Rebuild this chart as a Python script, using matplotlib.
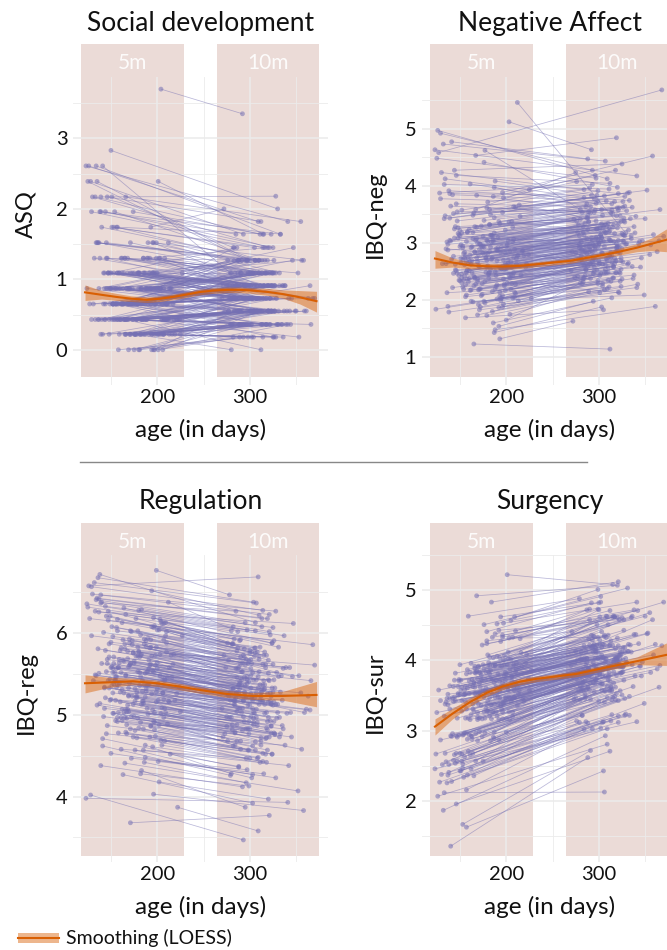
import numpy as np
import matplotlib
matplotlib.use("Agg")
import matplotlib.pyplot as plt
import matplotlib.transforms as mtransforms
from matplotlib.collections import LineCollection
from matplotlib.patches import Rectangle
from matplotlib.lines import Line2D
from numpy import nan

plt.rcParams['font.family'] = ['Lato', 'DejaVu Sans']

# ---------------------------------------------------------------------------
# Infant ages (days) at the 5-month and 10-month visits
AGE_5M = [
    131, 148, 162, 175, 189, 203, 156, 141, 168, 182, 197, 212, 144, 159, 171, 186, 200, 135, 152, 165,
    178, 193, 207, 147, 161, 174, 188, 201, 138, 155, 167, 181, 195, 209, 150, 163, 176, 190, 204, 126,
    145, 158, 172, 185, 198, 214, 153, 166, 179, 192, 206, 139, 157, 170, 183, 196, 210, 149, 164, 177,
    191, 205, 134, 151, 169, 184, 199, 217, 146, 160, 173, 187, 202, 129, 154, 168, 180, 194, 208, 143,
    158, 171, 185, 197, 211, 137, 150, 163, 176, 189, 203, 222, 147, 162, 175, 188, 201, 140, 156, 169,
    182, 195, 209, 124, 152, 165, 178, 191, 205, 144, 159, 172, 186, 199, 215, 136, 153, 166, 180, 193,
    207, 148, 161, 174, 187, 200, 133, 157, 170, 183, 196, 212, 142, 155, 168, 181, 194, 208, 127, 151,
    164, 177, 190, 204, 145, 160, 173, 186, 198, 219, 139, 154, 167, 179, 192, 206, 149, 162, 175, 188,
    202, 132, 156, 169, 182, 195, 210, 143, 158, 171, 184, 197, 225, 137, 153, 166, 179, 193, 207, 146,
    161, 174, 187, 200, 128, 150, 164, 177, 190, 203, 141, 157, 170, 183, 196, 213, 135, 152, 165, 180,
    137, 152, 166, 179, 193, 208, 145, 158, 171, 185, 199, 221, 130, 149, 163, 176, 190, 205, 142, 157,
    170, 184, 198, 213, 125, 147, 161, 174, 188, 202, 139, 155, 168, 182, 196, 211, 151, 165, 178, 192,
    206, 134, 153, 167, 181, 194, 209, 146, 160, 173, 187, 201, 227, 138, 156, 169, 183, 197, 216, 144,
    159, 172, 186, 200, 123, 148, 162, 176, 189, 204, 140, 154, 167, 180, 194, 210, 133, 150, 164, 178,
    191, 207, 143, 157, 171, 185, 199, 218, 129, 152, 166, 179, 193, 208, 136, 155, 169, 182, 196, 224,
]
AGE_10M = [
    285, 302, 318, 334, 291, 308, 325, 279, 296, 313, 341, 287, 304, 321, 298, 315, 283, 300, 329, 352,
    293, 310, 327, 281, 297, 314, 338, 289, 306, 323, 275, 295, 312, 331, 286, 303, 320, 346, 292, 309,
    326, 282, 299, 316, 336, 288, 305, 322, 271, 294, 311, 328, 284, 301, 319, 358, 290, 307, 324, 280,
    297, 314, 333, 287, 304, 321, 278, 295, 312, 343, 286, 303, 320, 293, 310, 327, 282, 299, 317, 365,
    289, 306, 323, 276, 296, 313, 330, 285, 302, 319, 292, 309, 326, 349, 281, 298, 315, 288, 305, 322,
    273, 294, 311, 337, 284, 301, 318, 291, 308, 325, 279, 297, 314, 332, 287, 304, 321, 355, 290, 307,
    324, 283, 300, 317, 340, 288, 306, 323, 277, 295, 312, 329, 286, 303, 320, 293, 310, 327, 368, 282,
    299, 316, 335, 289, 306, 323, 274, 296, 313, 344, 285, 302, 319, 292, 309, 326, 281, 298, 315, 361,
    290, 307, 324, 278, 294, 311, 331, 287, 304, 321, 283, 300, 318, 347, 291, 308, 325, 272, 297, 314,
    339, 286, 303, 320, 293, 310, 328, 280, 299, 316, 288, 305, 322, 353, 284, 301, 319, 295, 312, 370,
    301, 318, 335, 289, 306, 323, 276, 296, 313, 342, 287, 304, 321, 294, 311, 328, 283, 300, 317, 363,
    290, 307, 324, 279, 297, 314, 332, 286, 303, 320, 292, 309, 326, 350, 282, 299, 316, 288, 305, 322,
    270, 295, 312, 338, 285, 302, 319, 291, 308, 325, 280, 298, 315, 333, 287, 304, 321, 356, 293, 310,
    327, 284, 301, 318, 341, 289, 306, 323, 277, 296, 313, 330, 286, 303, 320, 294, 311, 328, 366, 281,
    300, 317, 336, 290, 307, 324, 275, 297, 314, 345, 284, 301, 319, 292, 309, 326, 282, 299, 316, 359,
]

# ASQ social development scores
ASQ_5M = [
    0.65, 0.43, 1.09, 0.22, 0.87, 1.30, 0.65, 2.61, 0.43, 0.87, 0.00, 1.52, 0.65, 0.22, 1.09, 0.43, 0.87, 2.39, 0.65, 1.30,
    0.43, 0.87, 0.22, 1.09, 0.65, 1.96, 0.43, 0.00, 1.30, 0.65, 0.87, 0.22, 1.52, 0.43, 1.09, 0.65, 0.22, 0.87, 3.70, 2.61,
    0.87, 0.43, 0.65, 1.30, 0.22, 0.87, 1.74, 0.43, 0.65, 1.09, 0.00, 2.17, 0.65, 0.22, 0.87, 1.52, 0.43, 1.09, 0.65, 0.22,
    1.09, 0.65, 2.61, 0.43, 0.87, 0.22, 1.30, 0.65, 2.17, 0.43, 1.09, 0.87, 0.22, 0.43, 1.96, 0.65, 0.87, 0.00, 1.30, 0.43,
    0.65, 0.22, 1.09, 0.87, 0.43, 1.52, 2.83, 0.65, 0.22, 1.30, 0.87, 0.43, 1.09, 0.65, 0.00, 0.87, 2.39, 0.43, 1.74, 0.65,
    0.22, 1.09, 0.43, 0.87, 0.65, 1.30, 0.22, 0.87, 0.43, 1.96, 1.09, 0.65, 0.22, 1.52, 0.87, 0.43, 0.65, 2.17, 0.00, 0.87,
    0.43, 0.87, 1.30, 0.65, 0.22, 1.09, 0.43, 1.74, 0.87, 0.65, 0.22, 0.43, 1.09, 0.65, 1.30, 0.00, 0.87, 0.43, 0.65, 2.17,
    1.09, 0.43, 0.65, 0.22, 1.52, 0.87, 0.43, 1.09, 0.65, 0.22, 1.96, 0.87, 0.43, 0.65, 1.30, 0.22, 0.87, 0.65, 1.09, 0.43,
    0.65, 1.30, 0.87, 0.43, 0.22, 1.09, 0.65, 0.87, 0.00, 1.52, 0.43, 0.65, 0.22, 0.87, 1.09, 0.43, 0.65, 1.74, 0.22, 0.87,
    0.43, 0.65, 1.09, 0.22, 2.39, 0.87, 0.43, 0.65, 1.30, 0.87, 0.22, 1.09, 0.65, 0.43, 0.00, 0.87, 1.52, 0.65, 0.43, 1.09,
    0.43, 0.87, 0.22, 1.09, 0.65, 0.43, 1.30, 0.87, 0.22, 0.65, 1.09, 0.43, 2.17, 0.65, 0.87, 0.22, 1.52, 0.43, 0.65, 1.09,
    0.87, 0.43, 0.65, 0.22, 2.39, 1.09, 0.65, 0.43, 0.87, 1.30, 0.22, 0.65, 1.09, 0.43, 0.87, 0.65, 1.74, 0.22, 0.43, 0.87,
    0.65, 1.52, 0.43, 0.87, 1.09, 0.22, 0.65, 1.30, 0.43, 0.87, 0.65, 0.22, 1.09, 1.96, 0.43, 0.65, 0.87, 1.09, 0.22, 0.43,
    1.09, 0.65, 0.43, 0.87, 2.61, 0.22, 1.30, 0.65, 0.43, 0.87, 1.74, 0.43, 0.65, 1.09, 0.22, 0.65, 2.17, 0.87, 0.43, 0.65,
    0.22, 0.87, 1.09, 0.43, 0.65, 1.30, 0.87, 0.43, 1.96, 0.65, 0.22, 1.09, 0.65, 0.43, 1.52, 0.87, 0.00, 0.65, 1.09, 0.43,
]
ASQ_10M = [
    0.91, 0.55, 0.73, 0.36, 1.27, 0.91, 0.18, 1.09, 0.73, 0.55, 0.36, 1.27, 1.09, 0.55, 0.73, 0.91, 1.45, 1.27, 0.36, 1.09,
    0.73, 1.09, 0.55, 0.91, 0.36, 1.64, 0.91, 0.18, 1.27, 0.55, nan, 0.73, 0.91, 0.36, 1.45, 0.73, 0.55, 1.27, 3.35, 1.82,
    0.55, 0.91, 0.73, 1.09, 0.18, 1.27, 1.45, 0.36, 0.91, 0.73, 0.55, 2.18, 0.91, 0.36, 1.09, 1.27, 0.55, 0.73, 1.09, 0.00,
    1.27, 0.36, 1.64, 0.73, 0.55, 0.36, 0.91, 1.09, 1.82, 0.55, 0.91, 0.73, 0.55, nan, 1.27, 0.91, 0.73, 0.36, 1.09, 0.91,
    0.55, 0.73, 0.91, 1.27, 0.36, 1.09, 2.00, 0.91, 0.18, 1.45, 0.55, 0.73, 0.91, 0.55, 0.36, 1.09, 1.64, 0.91, 1.27, 0.73,
    0.55, 0.91, 0.73, 0.55, 1.09, 0.91, 0.36, 1.27, 0.55, 1.45, 0.73, 0.91, 0.18, 1.09, 0.73, 0.55, 0.91, 1.82, 0.36, 0.73,
    0.91, 0.73, 1.09, 0.36, 0.55, 1.27, 0.73, 1.64, 0.55, 0.91, 0.36, 0.73, 0.91, 1.09, 0.91, 0.18, 1.27, 0.55, 0.73, 1.45,
    0.73, 0.55, 0.91, 0.36, 1.27, 0.55, nan, 0.91, 1.09, 0.36, 1.64, 0.73, 0.91, 0.55, 1.09, 0.18, 0.73, 1.27, 0.91, 0.55,
    1.09, 0.91, 0.55, 0.73, 0.36, 0.91, 0.55, 1.27, 0.18, 1.09, 0.55, 0.73, 0.36, 1.45, 0.91, 0.73, 1.09, 2.00, 0.55, 0.73,
    0.36, 0.91, 0.73, 0.55, 1.64, 1.09, 0.73, 0.36, 0.91, 1.27, 0.55, 0.91, 0.73, 0.18, 0.55, 1.09, 1.27, 0.91, 0.00, 0.73,
    0.55, 0.73, 0.36, 0.91, 1.09, 0.55, 0.91, 1.27, 0.36, 0.73, 1.09, 0.55, 1.45, 0.91, 0.73, 0.18, 1.27, 0.55, 0.91, 0.73,
    1.09, 0.55, 0.91, 0.36, 1.27, 0.73, 0.91, 0.55, 1.09, 0.91, 0.36, 0.73, 1.27, 0.55, 0.73, 1.09, 1.45, 0.36, 0.55, 1.09,
    0.73, 1.27, 0.55, 0.91, 0.73, 0.36, 0.91, 1.09, 0.55, 0.73, 1.09, 0.18, 0.91, 1.64, 0.55, 0.91, 0.73, 1.27, 0.36, 0.55,
    0.91, 0.73, 0.55, 1.09, 1.82, 0.36, 1.09, 0.91, 0.55, 0.73, 1.27, 0.36, 0.91, 0.73, 0.55, 0.91, 1.64, 1.09, 0.36, 0.73,
    0.55, 1.09, 0.91, 0.36, 0.73, 1.09, 0.91, 0.55, 1.45, 0.73, 0.36, 0.91, 0.55, 0.73, 1.27, 1.09, 0.18, 0.91, 0.73, 0.55,
]

# IBQ negative affect
NEG_5M = [
    2.63, 3.08, 2.17, 2.94, 2.42, 3.36, 2.05, 2.71, 3.83, 2.48, 1.92, 2.77, 3.24, 2.31, 2.58, 3.02, 1.64, 2.89, 2.45, 3.52,
    2.74, 2.13, 3.27, 2.46, 4.03, 2.82, 2.19, 2.96, 1.78, 2.61, 3.58, 2.37, 2.93, 2.04, 3.12, 2.68, 4.41, 2.26, 2.85, 4.97,
    2.52, 3.18, 1.87, 2.73, 2.24, 3.66, 2.91, 2.38, 3.04, 1.53, 2.57, 3.43, 2.08, 2.79, 2.53, 3.88, 2.27, 3.14, 1.96, 4.62,
    2.87, 2.43, 3.47, 2.64, 1.73, 3.01, 2.16, 2.84, 4.18, 2.51, 3.29, 1.42, 2.69, 4.92, 2.34, 3.07, 2.59, 2.02, 3.63, 2.76,
    2.36, 2.98, 2.14, 3.79, 2.72, 1.88, 3.21, 2.47, 2.92, 2.23, 5.12, 2.62, 3.38, 1.97, 2.81, 4.08, 2.29, 3.03, 1.68, 2.66,
    3.32, 2.54, 2.88, 1.83, 3.57, 2.41, 2.73, 3.09, 2.18, 4.27, 2.63, 2.97, 1.59, 2.82, 3.46, 2.12, 2.94, 2.39, 3.71, 2.56,
    2.03, 3.16, 2.67, 2.28, 3.97, 2.93, 3.42, 2.49, 1.91, 3.13, 2.58, 5.46, 2.21, 2.83, 3.27, 2.44, 1.98, 3.06, 4.58, 2.72,
    3.48, 2.32, 2.86, 1.74, 2.62, 3.23, 2.07, 3.81, 2.53, 2.77, 3.04, 2.18, 4.53, 2.69, 1.86, 3.37, 2.42, 2.91, 3.11, 1.47,
    2.64, 4.73, 2.26, 2.99, 2.84, 2.03, 3.62, 2.46, 3.19, 1.82, 2.71, 2.36, 3.93, 2.87, 2.22, 3.28, 2.57, 1.31, 3.02, 2.51,
    2.78, 2.09, 3.44, 2.61, 3.87, 2.33, 3.07, 1.94, 2.68, 2.43, 4.77, 3.02, 2.17, 2.92, 3.53, 1.98, 2.63, 3.17, 1.22, 2.81,
    2.97, 2.38, 2.83, 3.61, 2.06, 2.74, 3.28, 2.52, 2.88, 1.79, 3.22, 2.57, 4.23, 2.34, 2.93, 3.39, 2.01, 2.66, 3.84, 2.47,
    2.59, 3.13, 2.27, 2.78, 4.48, 3.54, 2.16, 2.92, 2.49, 3.03, 3.86, 2.41, 2.73, 3.31, 1.87, 2.62, 2.96, 2.24, 2.82, 3.37,
    2.28, 4.12, 2.71, 3.04, 2.46, 2.83, 2.13, 3.68, 2.37, 2.94, 3.17, 2.58, 2.02, 3.91, 2.77, 2.32, 3.49, 2.69, 2.43, 3.08,
    2.72, 2.19, 3.06, 2.54, 4.63, 3.26, 2.62, 1.97, 2.89, 2.38, 3.64, 2.81, 2.27, 3.02, 2.56, 2.11, 4.02, 2.93, 3.18, 2.48,
    2.91, 2.42, 3.51, 2.67, 2.18, 3.12, 2.63, 2.86, 3.77, 2.29, 2.84, 1.72, 3.33, 2.47, 3.01, 2.73, 2.36, 3.58, 2.07, 2.79,
]
NEG_10M = [
    2.86, 3.03, 2.47, 3.42, 2.63, 3.18, 2.36, 3.12, 3.57, 2.74, 2.21, nan, 3.48, 2.83, 2.52, 3.27, 2.31, 2.68, 2.97, 3.92,
    3.04, 2.57, 3.13, 2.88, 3.69, nan, 2.43, 3.37, 2.17, 2.82, 4.23, 2.49, 3.21, 2.62, 2.94, 3.08, 3.97, 2.73, nan, 4.12,
    2.66, 3.53, 2.28, 3.02, 2.58, 3.43, 3.27, 2.12, 2.84, 1.97, 3.06, 3.81, 2.38, nan, 2.91, 4.52, 2.63, 3.17, 2.23, 3.58,
    3.09, 2.77, 3.88, nan, 2.24, 3.32, 2.71, 2.57, 4.04, 2.98, 3.63, 1.87, 2.92, 4.27, 2.48, 3.38, nan, 2.33, 3.16, 3.03,
    2.83, 3.19, 2.46, 4.07, 2.87, 2.32, 3.56, 2.42, 3.14, 2.68, 4.63, nan, 3.72, 2.08, 3.01, 3.83, 2.59, 3.47, 1.82, 2.93,
    3.41, 2.72, 3.26, 2.37, 3.93, 2.64, nan, 3.52, 2.47, 4.38, 2.91, 3.07, 2.03, 3.22, 3.68, 2.28, 3.04, 2.79, 3.96, 2.61,
    2.53, 3.28, 2.97, 2.63, 3.46, 3.23, 3.82, nan, 2.41, 2.94, 2.76, 3.17, 2.52, 3.09, 3.61, 2.67, 2.34, 3.43, 5.68, 2.88,
    3.73, 2.58, 3.12, 2.14, nan, 3.47, 2.39, 4.18, 2.83, 3.02, 3.34, 2.46, 4.84, 3.08, 2.19, 3.62, 2.71, 3.24, 3.51, 1.88,
    2.92, 4.43, 2.68, 3.31, 2.96, 2.22, 3.87, 2.81, nan, 2.13, 3.18, 2.62, 4.27, 3.03, 2.37, 3.73, 2.89, 1.62, 3.38, 2.66,
    3.17, 2.53, 3.58, 2.93, 4.02, 2.74, 3.36, 2.29, 3.04, 2.57, 4.47, 3.29, 2.48, nan, 3.79, 2.42, 2.98, 3.53, 1.13, 3.11,
    3.23, 2.68, 3.07, 3.54, 2.47, nan, 3.38, 2.92, 3.03, 2.27, 3.43, 2.81, 3.86, 2.63, 3.19, 3.64, 2.36, 2.99, 3.72, 2.84,
    2.88, 3.32, 2.73, 2.97, 4.13, 3.57, 2.64, nan, 2.82, 3.26, 3.83, 2.69, 3.14, 3.42, 2.28, 2.93, 3.31, 2.58, 3.03, 3.61,
    2.51, 3.77, 3.04, 3.28, 2.84, 3.13, 2.47, 3.63, 2.72, 3.16, 3.41, nan, 2.38, 3.74, 3.07, 2.62, 3.57, 2.96, 2.83, 3.34,
    3.02, 2.59, 3.27, 2.84, 4.17, 3.36, 2.93, 2.32, 3.18, 2.71, 3.52, 2.98, 2.63, 3.33, 2.87, 2.46, 3.94, 3.12, 3.58, 2.77,
    3.08, 2.73, 3.62, 2.97, 2.53, 3.37, 2.82, 3.24, 3.68, 2.57, 3.13, 2.12, 3.47, 2.86, 3.29, 3.03, 2.66, 3.91, 2.38, 3.14,
]

# IBQ regulation
REG_5M = [
    5.42, 5.87, 4.93, 5.63, 5.08, 6.17, 5.34, 4.62, 5.78, 5.47, 5.03, 6.38, 5.21, 5.68, 4.83, 5.37, 6.04, 5.12, 5.57, 4.41,
    5.28, 5.83, 4.97, 6.27, 5.52, 4.73, 5.91, 5.18, 6.72, 5.43, 4.88, 5.71, 5.06, 6.13, 5.58, 4.27, 5.32, 5.94, 5.02, 6.58,
    5.53, 4.78, 6.02, 5.17, 5.73, 4.52, 5.38, 6.23, 4.96, 5.82, 5.27, 6.47, 4.92, 5.61, 5.13, 4.03, 5.88, 5.44, 6.31, 5.22,
    5.67, 4.63, 5.48, 6.08, 5.04, 5.29, 6.77, 5.62, 4.87, 5.79, 5.23, 5.51, 4.18, 5.97, 5.41, 5.07, 6.28, 5.72, 4.68, 5.33,
    5.58, 6.03, 5.14, 4.82, 5.46, 6.42, 5.19, 5.92, 4.57, 5.36, 5.74, 3.87, 6.16, 5.31, 4.98, 5.84, 4.43, 5.63, 6.07, 5.24,
    4.91, 5.54, 5.97, 6.36, 5.27, 5.81, 4.72, 5.57, 5.09, 6.33, 5.38, 4.47, 5.93, 5.16, 5.73, 6.68, 5.02, 5.49, 4.84, 5.62,
    6.12, 5.33, 4.58, 5.76, 5.22, 5.64, 6.27, 4.97, 5.88, 4.32, 5.53, 5.17, 6.01, 4.93, 5.69, 5.36, 6.52, 5.08, 6.18, 5.59,
    5.03, 5.72, 5.37, 6.14, 4.77, 5.28, 5.86, 4.42, 5.61, 5.18, 6.37, 5.52, 4.96, 5.83, 4.73, 5.43, 6.21, 5.07, 5.66, 5.32,
    4.88, 6.62, 5.47, 5.23, 5.98, 4.61, 5.77, 5.34, 5.58, 3.68, 5.42, 6.09, 5.04, 6.26, 5.71, 4.79, 5.53, 5.92, 5.19, 5.63,
    5.82, 5.13, 4.48, 5.57, 4.02, 5.89, 5.27, 6.18, 5.01, 5.48, 4.71, 6.03, 5.39, 5.74, 4.92, 5.16, 6.43, 5.52, 4.97, 5.78,
    5.51, 5.96, 5.07, 5.72, 4.86, 5.44, 6.21, 5.03, 5.62, 4.57, 5.83, 5.26, 6.48, 5.18, 5.67, 4.81, 5.54, 6.12, 4.98, 5.37,
    5.93, 5.17, 4.74, 5.58, 6.32, 5.42, 4.97, 5.76, 5.29, 6.04, 4.38, 5.47, 5.12, 5.73, 6.19, 4.89, 5.36, 5.87, 5.23, 5.61,
    5.27, 6.41, 5.63, 4.77, 5.52, 6.08, 5.03, 5.68, 5.16, 5.91, 4.63, 5.38, 5.97, 5.14, 5.57, 5.33, 6.29, 4.91, 5.46, 5.79,
    5.64, 4.98, 5.87, 5.32, 3.98, 5.71, 6.13, 5.17, 5.53, 4.69, 6.38, 5.43, 5.04, 5.77, 5.26, 6.02, 5.49, 4.53, 5.66, 5.21,
    5.37, 5.92, 5.08, 6.17, 5.63, 4.83, 5.28, 5.74, 6.57, 5.02, 5.48, 6.03, 4.87, 5.42, 5.81, 5.18, 5.59, 4.28, 6.07, 5.34,
]
REG_10M = [
    5.27, 5.63, 4.72, 5.48, 5.03, 5.77, 5.12, 4.26, 5.68, 5.17, nan, 6.02, 4.88, 5.42, 4.57, 5.31, 5.93, 4.83, 5.52, 4.07,
    4.98, 5.72, 4.77, 5.87, 5.38, 4.53, nan, 5.08, 6.13, 5.23, 4.86, 5.61, 4.68, 5.83, 5.27, 3.92, 5.16, 5.47, 4.81, 6.69,
    5.43, 4.62, 5.66, 5.02, 5.57, 4.37, 5.21, 5.98, 4.73, 5.46, nan, 6.27, 4.79, 5.33, 4.92, 3.83, 5.71, 5.07, 5.88, 4.97,
    5.47, 4.43, 5.28, 5.82, 4.91, nan, 6.47, 5.36, 4.63, 5.58, 5.04, 5.18, 3.97, 5.73, 5.13, 4.76, 6.08, 5.41, 4.52, 5.06,
    5.32, 5.76, 4.87, 4.68, 5.22, 6.18, 5.03, 5.57, 4.23, 5.26, 5.53, 3.58, 5.91, nan, 4.82, 5.63, 4.28, 5.37, 5.72, 4.93,
    4.77, 5.28, 5.83, 5.97, 5.12, 5.48, 4.42, 5.37, 4.91, 6.07, 5.18, 4.33, 5.62, 4.97, nan, 6.38, 4.73, 5.27, 4.58, 5.43,
    5.88, 5.13, 4.47, 5.62, 5.02, 5.27, 6.03, 4.78, 5.67, 3.87, 5.23, 4.96, 5.78, 4.62, 5.51, 5.17, 6.22, nan, 5.86, 5.32,
    4.92, 5.37, 5.18, 5.91, 4.57, 5.13, 5.58, 4.17, 5.28, 5.03, 6.27, 5.22, nan, 5.64, 4.48, 5.16, 5.87, 4.83, 5.42, 5.07,
    4.68, 6.37, 5.33, 4.97, 5.81, 4.42, 5.47, 5.08, 5.43, 3.77, 5.18, 5.76, 4.84, 6.12, 5.53, 4.47, 5.28, 5.73, nan, 5.37,
    5.58, 4.88, 4.27, 5.43, 3.47, 5.68, 5.13, 6.03, 4.77, 5.32, 4.36, 5.82, 5.17, 5.48, 4.63, 4.98, 6.18, 5.27, 4.72, 5.61,
    5.26, 5.73, 4.87, 5.41, 4.67, 5.14, 5.88, 4.83, 5.32, 4.38, 5.57, 5.03, 6.23, 4.92, 5.37, nan, 5.17, 5.79, 4.71, 5.23,
    5.62, 4.97, 4.52, 5.28, 6.04, 5.17, 4.73, 5.46, 5.08, 5.67, 4.12, 5.33, 4.78, nan, 5.87, 4.57, 5.13, 5.58, 5.02, 5.27,
    5.08, 6.13, 5.27, 4.63, 5.21, 5.77, 4.82, 5.43, 4.87, 5.62, 4.28, 5.12, 5.73, 4.77, 5.34, 4.96, 6.02, 4.58, 5.18, 5.53,
    5.33, 4.78, 5.57, 5.03, 3.93, 5.38, 5.82, 4.86, 5.23, 4.47, 6.08, 5.13, 4.68, 5.52, 4.97, 5.71, 5.18, 4.23, 5.42, 4.88,
    5.12, 5.58, 4.83, 5.92, 5.27, 4.52, 4.98, 5.43, 6.28, 4.73, 5.17, 5.68, 4.57, 5.08, 5.47, 4.92, 5.33, 4.13, 5.77, 5.03,
]

# IBQ surgency
SUR_5M = [
    2.52, 3.63, 2.93, 3.94, 3.27, 4.32, 3.18, 2.28, 3.86, 3.47, 4.53, 3.36, 3.72, 2.71, 3.54, 4.04, 2.98, 3.41, 2.57, 3.68,
    3.32, 3.93, 3.46, 2.91, 3.83, 3.17, 4.38, 3.62, 2.41, 3.52, 2.96, 3.97, 3.38, 4.62, 2.68, 3.73, 3.48, 3.21, 3.88, 2.07,
    3.43, 2.88, 3.82, 3.26, 4.07, 3.57, 2.47, 3.53, 4.28, 3.16, 3.77, 3.64, 2.16, 3.91, 3.37, 3.68, 4.42, 2.94, 3.31, 2.97,
    3.81, 3.42, 2.68, 3.58, 3.19, 4.83, 3.47, 3.92, 1.96, 3.71, 3.36, 2.89, 4.03, 3.43, 2.95, 3.84, 3.28, 4.27, 3.61, 2.58,
    3.87, 2.99, 3.73, 3.38, 3.96, 2.37, 3.52, 2.92, 4.51, 3.63, 3.27, 4.09, 3.18, 2.46, 3.57, 3.93, 5.22, 1.36, 3.41, 3.74,
    3.21, 3.92, 3.48, 2.67, 3.62, 3.28, 3.83, 3.37, 4.02, 2.66, 4.63, 3.53, 2.91, 3.72, 4.31, 3.46, 2.53, 3.89, 3.42, 3.57,
    3.27, 3.51, 2.66, 4.22, 3.69, 3.17, 2.12, 3.81, 3.38, 2.86, 4.33, 3.62, 3.47, 2.97, 4.92, 3.84, 3.36, 3.91, 3.58, 2.43,
    3.63, 3.18, 4.06, 3.46, 3.82, 2.94, 3.73, 3.27, 3.94, 3.42, 3.31, 2.34, 3.53, 4.41, 2.87, 3.78, 3.71, 3.23, 2.57, 3.48,
    4.12, 1.87, 3.52, 2.86, 3.93, 3.31, 3.68, 3.63, 2.37, 3.83, 3.17, 4.01, 3.58, 3.37, 1.67, 3.62, 4.24, 3.47, 3.21, 2.93,
    3.16, 3.72, 3.38, 3.81, 2.27, 3.94, 2.68, 3.57, 4.52, 3.48, 2.92, 1.63, 3.53, 3.86, 3.27, 3.91, 2.56, 3.43, 3.69, 4.08,
    3.52, 2.67, 3.83, 3.28, 4.04, 3.47, 2.54, 3.61, 3.18, 4.33, 3.42, 3.96, 2.38, 3.73, 2.88, 3.88, 3.53, 4.57, 2.96, 3.31,
    3.92, 3.37, 3.78, 3.53, 3.26, 2.57, 3.64, 2.92, 3.93, 3.58, 3.46, 2.63, 3.42, 4.05, 3.17, 3.87, 3.72, 2.36, 3.61, 4.43,
    3.71, 3.38, 2.94, 3.82, 3.28, 4.62, 3.57, 2.68, 3.53, 3.79, 2.98, 3.94, 3.86, 2.52, 3.63, 3.26, 3.74, 3.41, 4.11, 3.48,
    3.18, 3.62, 3.93, 3.47, 2.46, 3.53, 3.96, 3.27, 3.72, 3.16, 2.93, 3.51, 2.57, 3.92, 3.63, 3.84, 3.21, 2.43, 3.38, 3.73,
    3.48, 4.33, 3.42, 2.97, 3.68, 3.52, 3.83, 3.46, 2.87, 3.28, 3.92, 3.37, 3.71, 3.94, 2.26, 3.58, 3.16, 3.81, 4.36, 3.74,
]
SUR_10M = [
    3.46, 4.03, 3.62, 4.22, 3.68, 4.33, 3.83, 3.12, 4.13, 3.92, 4.83, 3.77, 4.04, 3.43, 3.87, 4.62, 3.58, 3.81, 3.24, 4.38,
    3.82, 4.36, 3.93, 3.57, 4.12, nan, 4.72, 3.88, 3.41, 4.02, 3.47, 4.23, 3.71, 5.03, 3.13, 4.08, 3.94, 3.78, 4.18, 2.81,
    3.91, 3.22, 4.03, 3.84, 4.63, 3.87, 3.13, 3.97, 4.41, 3.68, 4.21, 4.12, 3.02, 4.29, 3.79, 4.58, 4.73, 3.57, 3.93, 3.44,
    4.17, 3.92, 3.49, 4.03, 3.67, 5.12, 3.83, 4.34, 2.71, 4.24, 3.78, 3.58, 4.61, nan, 3.72, 4.43, 3.68, 4.73, 4.02, 3.62,
    4.31, 3.57, 4.13, 3.82, 4.18, 3.14, 3.97, 3.52, 4.91, 4.04, 3.77, 4.62, 3.84, 3.39, 4.01, 4.22, 5.08, 2.62, 3.89, 4.07,
    3.45, 4.21, 3.92, 3.63, 4.02, 3.68, 4.17, 3.81, 4.63, 3.51, 4.88, 3.91, 3.57, 4.23, 4.72, 3.86, 3.21, 4.68, 3.79, 3.98,
    3.82, 3.87, 3.42, 4.62, 4.37, 3.61, 2.13, 4.08, 3.72, 3.56, 4.71, 4.03, 3.93, 3.67, 5.07, 4.19, 3.77, 4.58, 4.21, 3.22,
    4.03, 3.68, 4.61, 3.88, 4.22, 3.57, 3.96, 3.73, 4.28, 3.92, 3.83, 3.04, 4.01, 4.82, 3.63, 4.18, 4.12, 3.78, 3.48, 4.23,
    4.58, 2.93, 3.92, 3.57, 4.35, 3.83, 4.13, 3.97, 3.12, 4.21, 3.68, 4.72, 4.04, 3.98, 2.72, 4.02, 4.61, 3.77, 3.72, 3.59,
    3.78, 4.13, 3.87, 4.32, 3.03, 4.51, 3.46, 4.02, 5.01, 3.97, 3.62, 2.43, 3.91, 4.39, 3.82, 4.62, 3.53, 3.93, 4.22, 4.83,
    3.81, 3.44, 4.12, 3.78, 4.36, 3.93, 3.14, 4.03, 3.62, 4.71, 3.84, 4.23, 3.12, 3.97, 3.58, 4.18, 3.83, 4.82, 3.49, 3.88,
    4.22, 3.77, 4.08, 3.84, 3.72, 3.23, 4.13, 3.58, 4.19, 4.03, 3.82, 3.47, 3.91, 4.63, 3.61, 4.33, 3.98, 3.11, 4.04, 4.58,
    3.93, 3.82, 3.57, 4.37, 3.71, 4.83, 4.02, 3.45, 3.88, 4.12, 3.63, 4.51, 4.21, 3.22, 4.03, 3.79, 3.97, 3.83, 4.29, 3.91,
    3.72, 4.03, 4.23, 3.92, 3.13, 3.87, 4.34, 3.82, 4.01, 3.68, 3.63, 3.97, 3.48, 4.41, 4.04, 4.12, 3.78, 3.22, 3.93, 4.02,
    3.88, 4.62, 3.94, 3.58, 4.03, 3.91, 4.13, 3.87, 3.44, 3.92, 4.21, 3.82, 3.98, 4.36, 3.03, 4.01, 3.73, 4.12, 4.63, 4.08,
]

# LOESS fits (age, fitted value, lower and upper band)
ASQ_SM_AGE = [122, 140, 156, 172, 189, 203, 217, 232, 246, 260, 275, 289, 303, 320, 336, 354, 372]
ASQ_SM_FIT = [0.815, 0.78, 0.75, 0.725, 0.71, 0.725, 0.75, 0.785, 0.82, 0.84, 0.85, 0.85, 0.84, 0.82, 0.79, 0.745, 0.69]
ASQ_SM_LO = [0.70, 0.72, 0.70, 0.685, 0.67, 0.685, 0.71, 0.745, 0.78, 0.80, 0.81, 0.81, 0.80, 0.77, 0.73, 0.65, 0.535]
ASQ_SM_HI = [0.92, 0.84, 0.80, 0.765, 0.75, 0.765, 0.79, 0.825, 0.86, 0.88, 0.89, 0.89, 0.88, 0.87, 0.85, 0.84, 0.83]

NEG_SM_AGE = [123, 142, 161, 178, 196, 214, 233, 251, 269, 286, 304, 322, 341, 357, 373]
NEG_SM_FIT = [2.72, 2.65, 2.60, 2.585, 2.58, 2.59, 2.62, 2.65, 2.68, 2.73, 2.78, 2.84, 2.91, 2.98, 3.05]
NEG_SM_LO = [2.55, 2.57, 2.54, 2.535, 2.53, 2.545, 2.575, 2.605, 2.635, 2.685, 2.73, 2.78, 2.84, 2.86, 2.84]
NEG_SM_HI = [2.86, 2.73, 2.66, 2.635, 2.63, 2.635, 2.665, 2.695, 2.725, 2.775, 2.83, 2.90, 2.98, 3.08, 3.24]

REG_SM_AGE = [122, 149, 174, 200, 225, 246, 275, 303, 336, 372]
REG_SM_FIT = [5.388, 5.400, 5.412, 5.388, 5.346, 5.306, 5.257, 5.233, 5.233, 5.245]
REG_SM_LO = [5.27, 5.34, 5.37, 5.35, 5.305, 5.265, 5.215, 5.19, 5.18, 5.10]
REG_SM_HI = [5.49, 5.46, 5.45, 5.425, 5.385, 5.345, 5.30, 5.275, 5.29, 5.41]

SUR_SM_AGE = [123, 142, 161, 179, 196, 215, 233, 258, 276, 304, 341, 373]
SUR_SM_FIT = [3.06, 3.245, 3.41, 3.54, 3.63, 3.70, 3.74, 3.78, 3.81, 3.89, 3.99, 4.08]
SUR_SM_LO = [2.94, 3.17, 3.35, 3.49, 3.585, 3.655, 3.70, 3.74, 3.77, 3.85, 3.94, 3.93]
SUR_SM_HI = [3.17, 3.32, 3.47, 3.59, 3.675, 3.745, 3.78, 3.82, 3.85, 3.93, 4.05, 4.25]

# visit windows (days)
WINDOWS = [("5m", 118, 229), ("10m", 264, 375)]

# ---------------------------------------------------------------------------
W, H = 667, 950
fig = plt.figure(figsize=(W / 100, H / 100), dpi=100)

PURPLE = "#7570b3"
ORANGE = "#d95f02"
PINK = "#ebdbd7"
GRID = "#ebebeb"
TXT = "#111111"

COL_X = [(73, 328), (422, 677)]
ROW_Y = [(77, 385, 44, 377), (555, 862, 523, 856)]  # axes top, bottom, band top, band bottom

panels = [
    dict(title="Social development", ylabel="ASQ", v5=ASQ_5M, v10=ASQ_10M,
         ylim=(-0.198, 3.872), yticks=[0, 1, 2, 3],
         sm=(ASQ_SM_AGE, ASQ_SM_FIT, ASQ_SM_LO, ASQ_SM_HI), col=0, row=0),
    dict(title="Negative Affect", ylabel="IBQ-neg", v5=NEG_5M, v10=NEG_10M,
         ylim=(0.782, 5.907), yticks=[1, 2, 3, 4, 5],
         sm=(NEG_SM_AGE, NEG_SM_FIT, NEG_SM_LO, NEG_SM_HI), col=1, row=0),
    dict(title="Regulation", ylabel="IBQ-reg", v5=REG_5M, v10=REG_10M,
         ylim=(3.20, 6.958), yticks=[4, 5, 6],
         sm=(REG_SM_AGE, REG_SM_FIT, REG_SM_LO, REG_SM_HI), col=0, row=1),
    dict(title="Surgency", ylabel="IBQ-sur", v5=SUR_5M, v10=SUR_10M,
         ylim=(1.135, 5.419), yticks=[2, 3, 4, 5],
         sm=(SUR_SM_AGE, SUR_SM_FIT, SUR_SM_LO, SUR_SM_HI), col=1, row=1),
]

a5 = np.array(AGE_5M, float)
a10 = np.array(AGE_10M, float)

for p in panels:
    x0, x1 = COL_X[p["col"]]
    top, bot, btop, bbot = ROW_Y[p["row"]]
    ax = fig.add_axes([x0 / W, 1 - bot / H, (x1 - x0) / W, (bot - top) / H])
    ax.set_xlim(109, 384.4)
    ax.set_ylim(*p["ylim"])
    for s in ax.spines.values():
        s.set_visible(False)
    ax.set_axisbelow(True)

    # grid
    ax.set_xticks([200, 300])
    ax.set_xticks([150, 250, 350], minor=True)
    ax.set_yticks(p["yticks"])
    ax.set_yticks([t + 0.5 for t in p["yticks"]] + [p["yticks"][0] - 0.5], minor=True)
    ax.grid(which="major", color=GRID, lw=1.15)
    ax.grid(which="minor", color=GRID, lw=0.6)
    ax.tick_params(which="both", length=0, labelsize=14.5, labelcolor=TXT)
    ax.tick_params(axis="y", pad=4)
    ax.tick_params(axis="x", pad=3)

    # visit windows
    h = bot - top
    yb = (bot - bbot) / h
    yt = (bot - btop) / h
    trans = mtransforms.blended_transform_factory(ax.transData, ax.transAxes)
    for lab, lo, hi in WINDOWS:
        ax.add_patch(Rectangle((lo, yb), hi - lo, yt - yb, transform=trans,
                               facecolor=PINK, edgecolor="none", zorder=0.1, clip_on=False))
        ly = (bot - (btop + 19)) / h
        ax.text((lo + hi) / 2, ly, lab, transform=trans, ha="center", va="center",
                color="white", alpha=0.9, fontsize=15, zorder=0.2)

    # subjects
    v5 = np.array(p["v5"], float)
    v10 = np.array(p["v10"], float)
    both = ~np.isnan(v5) & ~np.isnan(v10)
    segs = [[(a5[i], v5[i]), (a10[i], v10[i])] for i in np.where(both)[0]]
    ax.add_collection(LineCollection(segs, colors=PURPLE, linewidths=0.55, alpha=0.5, zorder=2))
    m5 = ~np.isnan(v5)
    m10 = ~np.isnan(v10)
    ax.scatter(a5[m5], v5[m5], s=12, color=PURPLE, alpha=0.55, edgecolors="none", zorder=3)
    ax.scatter(a10[m10], v10[m10], s=12, color=PURPLE, alpha=0.55, edgecolors="none", zorder=3)

    # LOESS
    sa, sf, slo, shi = p["sm"]
    ax.fill_between(sa, slo, shi, color=ORANGE, alpha=0.45, lw=0, zorder=4)
    ax.plot(sa, sf, color=ORANGE, lw=1.5, zorder=5)

    cx = (x0 + x1) / 2
    if p["col"] == 1:
        cx = 549.5
    fig.text(cx / W, 1 - (top - 46) / H, p["title"], ha="center", va="baseline",
             fontsize=19, color=TXT)
    fig.text(cx / W, 1 - (bot + 52) / H, "age (in days)", ha="center", va="baseline",
             fontsize=17.5, color=TXT)
    fig.text((x0 - 47) / W, 1 - ((btop + bot) / 2) / H, p["ylabel"], rotation=90,
             ha="center", va="center", fontsize=17, color=TXT)

# separator between the two rows
fig.add_artist(Line2D([80 / W, 587 / W], [1 - 462 / H, 1 - 462 / H], color="#888888", lw=1.0))

# legend
fig.add_artist(Rectangle((18 / W, 1 - 943 / H), 41 / W, 10 / H, facecolor=ORANGE, alpha=0.45,
                         edgecolor="none", transform=fig.transFigure))
fig.add_artist(Line2D([18 / W, 59 / W], [1 - 938 / H, 1 - 938 / H], color=ORANGE, lw=1.5))
fig.text(66 / W, 1 - 938 / H, "Smoothing (LOESS)", ha="left", va="center", fontsize=14, color=TXT)

fig.savefig("out.png", dpi=100)
